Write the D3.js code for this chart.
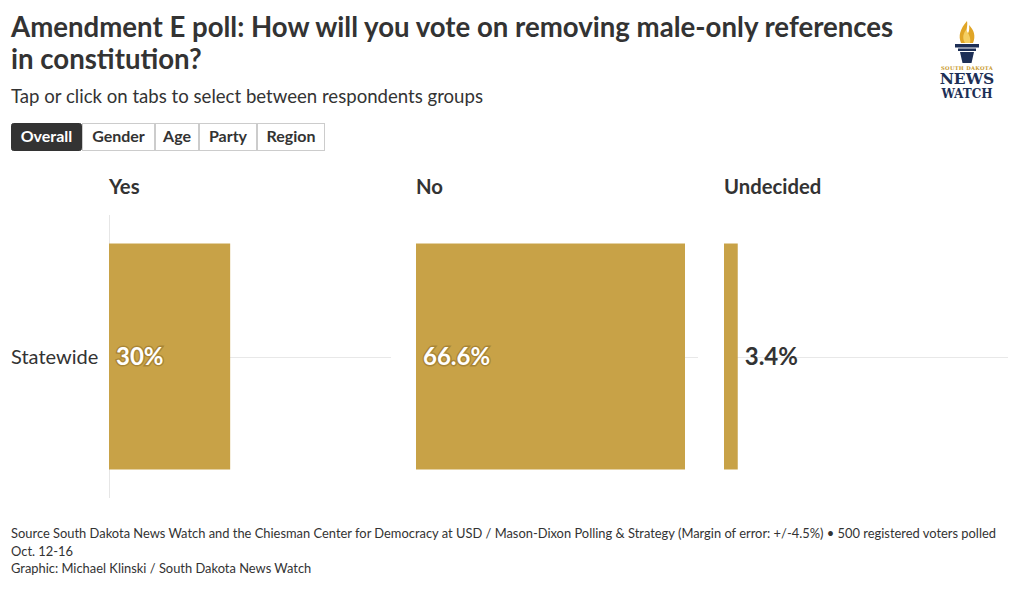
<!DOCTYPE html>
<html>
<head>
<meta charset="utf-8">
<script src="https://cdn.jsdelivr.net/npm/d3@7"></script>
<style>
  html, body { margin: 0; padding: 0; background: #fff; }
  svg { display: block; font-family: Lato, "Open Sans", sans-serif; }
</style>
</head>
<body>
<svg id="chart" width="1020" height="589"></svg>
<script>
// ---- data ----
const categories = ["Yes", "No", "Undecided"];
const groups = ["Statewide"];
const values = [30, 66.6, 3.4];
const valueLabels = ["30%", "66.6%", "3.4%"];
const tabs = ["Overall", "Gender", "Age", "Party", "Region"];
const titleLines = ["Amendment E poll: How will you vote on removing male-only references", "in constitution?"];
const subtitle = "Tap or click on tabs to select between respondents groups";
const footerLines = [
  "Source South Dakota News Watch and the Chiesman Center for Democracy at USD / Mason-Dixon Polling & Strategy (Margin of error: +/-4.5%) \u2022 500 registered voters polled",
  "Oct. 12-16",
  "Graphic: Michael Klinski / South Dakota News Watch"
];

(function () {
const svg = d3.select("#chart");
const ink = "#333333";
const gold = "#c8a247";

// ---- header ----
svg.append("text").attr("x", 11).attr("y", 37)
  .attr("font-size", 27.6).attr("font-weight", 700).attr("fill", ink)
  .selectAll("tspan").data(titleLines).join("tspan")
  .attr("x", 11).attr("dy", (d, i) => i === 0 ? 0 : 32).text(d => d);

svg.append("text").attr("x", 11).attr("y", 103)
  .attr("font-size", 18.6).attr("fill", ink).text(subtitle);

// ---- tabs ----
const tabWidths = [71, 73, 44, 58, 68];
let tx = 11;
const tabG = svg.append("g");
tabs.forEach((t, i) => {
  const w = tabWidths[i];
  const g = tabG.append("g").attr("transform", `translate(${tx},123)`);
  g.append("rect").attr("x", 0.5).attr("y", 0.5).attr("width", w - 1).attr("height", 27)
    .attr("rx", i === 0 ? 2 : 0)
    .attr("fill", i === 0 ? ink : "#fff")
    .attr("stroke", i === 0 ? ink : "#cccccc");
  g.append("text").attr("x", w / 2).attr("y", 19).attr("text-anchor", "middle")
    .attr("font-size", 16).attr("font-weight", 700)
    .attr("fill", i === 0 ? "#fff" : ink).text(t);
  tx += w;
});

// ---- chart ----
const panelX = [109, 416, 724];
const panelW = 282;
const plotTop = 215, plotBottom = 498;

const x = d3.scaleLinear().domain([0, d3.max(values)]).range([0, 269]);
const y = d3.scaleBand().domain(groups).range([plotTop, plotBottom]).padding(0.112);

// row label
svg.append("text").attr("x", 11).attr("y", y(groups[0]) + y.bandwidth() / 2)
  .attr("dy", "0.35em").attr("font-size", 20).attr("fill", ink).text(groups[0]);

// axis line in first panel
svg.append("line").attr("x1", panelX[0] + 0.5).attr("x2", panelX[0] + 0.5)
  .attr("y1", plotTop).attr("y2", plotBottom).attr("stroke", "#e6e6e6");

categories.forEach((c, i) => {
  const g = svg.append("g").attr("transform", `translate(${panelX[i]},0)`);
  g.append("text").attr("x", 0).attr("y", 194)
    .attr("font-size", 20.3).attr("font-weight", 700).attr("fill", ink).text(c);
  const cy = y(groups[0]) + y.bandwidth() / 2;
  g.append("line").attr("x1", 0).attr("x2", panelW + (i === 2 ? 2 : 0))
    .attr("y1", Math.round(cy) + 0.5).attr("y2", Math.round(cy) + 0.5)
    .attr("stroke", "#e8e8e8");
  g.selectAll("rect.bar").data([values[i]]).join("rect").attr("class", "bar")
    .attr("x", x(0)).attr("y", y(groups[0]))
    .attr("width", d => x(d)).attr("height", y.bandwidth()).attr("fill", gold);
  const inside = x(values[i]) > 60;
  if (inside) {
    g.append("text").attr("x", 7).attr("y", cy).attr("dy", "0.36em")
      .attr("font-size", 24).attr("font-weight", 700).attr("fill", "#fff")
      .attr("stroke", "rgba(110,80,20,0.35)").attr("stroke-width", 3)
      .attr("paint-order", "stroke")
      .text(valueLabels[i]);
  } else {
    g.append("text").attr("x", x(values[i]) + 7).attr("y", cy).attr("dy", "0.36em")
      .attr("font-size", 24).attr("font-weight", 700).attr("fill", ink)
      .text(valueLabels[i]);
  }
});

// ---- footer ----
svg.append("g").selectAll("text").data(footerLines).join("text")
  .attr("x", 11).attr("y", (d, i) => 538 + i * 17.5)
  .attr("font-size", 12.9).attr("fill", ink).text(d => d);

// ---- logo ----
const logo = svg.append("g").attr("transform", "translate(967,0)");
logo.append("path")
  .attr("d", "M0,21 C-7,29 -9,36 -6,43 L6,43 C9,36 7,30 2,25 C3,31 1,34 -1,35 C-1,30 1,26 0,21 Z")
  .attr("fill", "#e0a526");
logo.append("path")
  .attr("d", "M-1,30 C-5,35 -4,40 -2,43 L3,43 C4,38 2,34 -1,30 Z").attr("fill", "#f5cf62");
logo.append("rect").attr("x", -12).attr("y", 44).attr("width", 24).attr("height", 3.5).attr("fill", "#1d2f56");
logo.append("rect").attr("x", -9).attr("y", 48.5).attr("width", 18).attr("height", 2.5).attr("fill", "#1d2f56");
logo.append("path").attr("d", "M-7,52 L7,52 L4.5,63 L-4.5,63 Z").attr("fill", "#1d2f56");
logo.append("text").attr("x", 0).attr("y", 69.5).attr("text-anchor", "middle")
  .attr("font-family", "DejaVu Serif").attr("font-size", 5.2).attr("font-weight", 700)
  .attr("fill", "#c99a2e").attr("letter-spacing", 0.3).text("SOUTH DAKOTA");
logo.append("text").attr("x", 0).attr("y", 84).attr("text-anchor", "middle")
  .attr("font-family", "DejaVu Serif").attr("font-size", 15.5).attr("font-weight", 700)
  .attr("fill", "#1d2f56").text("NEWS");
logo.append("text").attr("x", 0).attr("y", 97.5).attr("text-anchor", "middle")
  .attr("font-family", "DejaVu Serif").attr("font-size", 12).attr("font-weight", 700)
  .attr("fill", "#1d2f56").text("WATCH");
})();
</script>
</body>
</html>
